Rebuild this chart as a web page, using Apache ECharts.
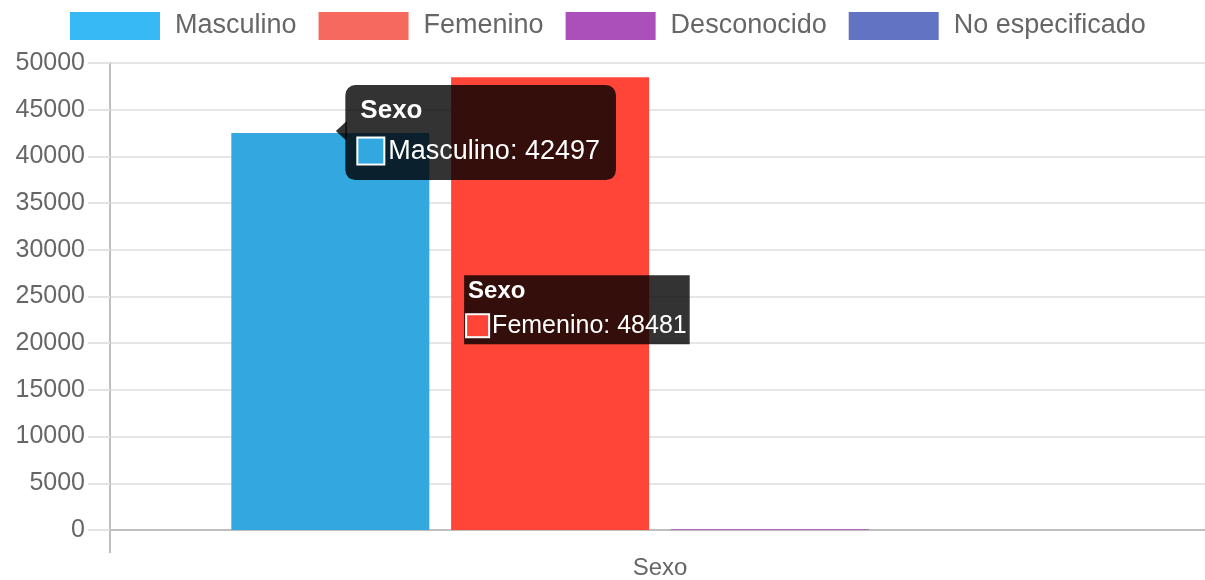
<!DOCTYPE html>
<html><head><meta charset="utf-8">
<script src="https://cdn.jsdelivr.net/npm/echarts@6/dist/echarts.min.js"></script>
<style>html,body{margin:0;padding:0;background:#fff}#c{width:1205px;height:580px}</style>
</head><body><div id="c"></div>
<script>
const categories = ['Sexo'];
const seriesNames = ['Masculino', 'Femenino', 'Desconocido', 'No especificado'];
const masculino = [42497];
const femenino = [48481];
const desconocido = [70];
const noEspecificado = [0];
const yTicks = { min: 0, max: 50000, interval: 5000 };

const FONT = '"Liberation Sans", Arial, Helvetica, sans-serif';
const barColors = ['#32a7e0', '#fe4537', '#ab4fbb', '#6373c4'];
const legendColors = ['#36b9f5', '#f5695e', '#ab4fbb', '#6373c4'];
const values = [masculino, femenino, desconocido, noEspecificado];

function tipLabel(i, o) {
  return {
    show: true,
    position: o.pos,
    formatter: '{t|' + categories[0] + '}\n{b|}{v|' + seriesNames[i] + ': ' + values[i][0] + '}',
    backgroundColor: 'rgba(0,0,0,0.8)',
    borderRadius: o.radius,
    padding: o.padding,
    rich: {
      t: { fontFamily: FONT, fontWeight: 'bold', fontSize: o.tSize, color: '#fff', lineHeight: o.tLine, padding: [0, 0, 0, o.tPad] },
      b: { width: o.box, height: o.box, backgroundColor: barColors[i], borderColor: '#fff', borderWidth: 2 },
      v: { fontFamily: FONT, fontSize: o.vSize, color: '#fff', padding: [0, 0, 0, o.vPad], lineHeight: o.vLine }
    }
  };
}

const series = seriesNames.map((name, i) => ({
  name, type: 'bar', data: values[i].slice(),
  itemStyle: { color: barColors[i] },
  barWidth: 198, barGap: '11%',
  emphasis: { disabled: true }
}));
series[0].data = [{ value: masculino[0], label: tipLabel(0, { pos: [114, -48], radius: 10, padding: [8, 16, 7, 13], tSize: 26, tLine: 36, tPad: 2, box: 25, vSize: 27, vLine: 44, vPad: 5 }) }];
series[1].data = [{ value: femenino[0], label: tipLabel(1, { pos: [13, 198], radius: 0, padding: [0, 3, 0, 3], tSize: 24, tLine: 32, tPad: 1, box: 21, vSize: 25, vLine: 37, vPad: 4 }) }];
series[0].markPoint = {
  symbol: 'triangle', symbolSize: [20, 11], symbolRotate: 90, symbolOffset: [11, -2],
  itemStyle: { color: 'rgba(0,0,0,0.8)' }, label: { show: false },
  data: [{ coord: [categories[0], masculino[0]] }], silent: true
};

const chart = echarts.init(document.getElementById('c'));
chart.setOption({
  animation: false,
  textStyle: { fontFamily: FONT },
  legend: {
    top: 12, left: 70, padding: 0, icon: 'rect', itemWidth: 90, itemHeight: 28, itemGap: 22,
    textStyle: { fontFamily: FONT, fontSize: 27, color: '#666', lineHeight: 28, padding: [0, 0, 0, 10] },
    data: seriesNames.map((n, i) => ({ name: n, itemStyle: { color: legendColors[i] } })),
    selectedMode: false
  },
  grid: { left: 110, width: 1100, top: 63, height: 467, containLabel: false, outerBoundsMode: 'none' },
  xAxis: {
    type: 'category', data: categories,
    axisLine: { lineStyle: { color: '#bfbfbf', width: 2 } },
    axisTick: { show: true, length: 23, lineStyle: { color: '#bfbfbf', width: 2 } },
    axisLabel: { fontFamily: FONT, fontSize: 24, color: '#666', margin: 26 },
    splitLine: { show: false }
  },
  yAxis: {
    type: 'value', min: yTicks.min, max: yTicks.max, interval: yTicks.interval,
    axisLine: { show: true, lineStyle: { color: '#bfbfbf', width: 2 } },
    axisTick: { show: true, length: 22, lineStyle: { color: '#e3e3e3', width: 2 } },
    axisLabel: { fontFamily: FONT, fontSize: 25, color: '#666', margin: 25, formatter: v => String(v) },
    splitLine: { show: true, lineStyle: { color: '#e6e6e6', width: 2 } }
  },
  series
});
</script></body></html>
